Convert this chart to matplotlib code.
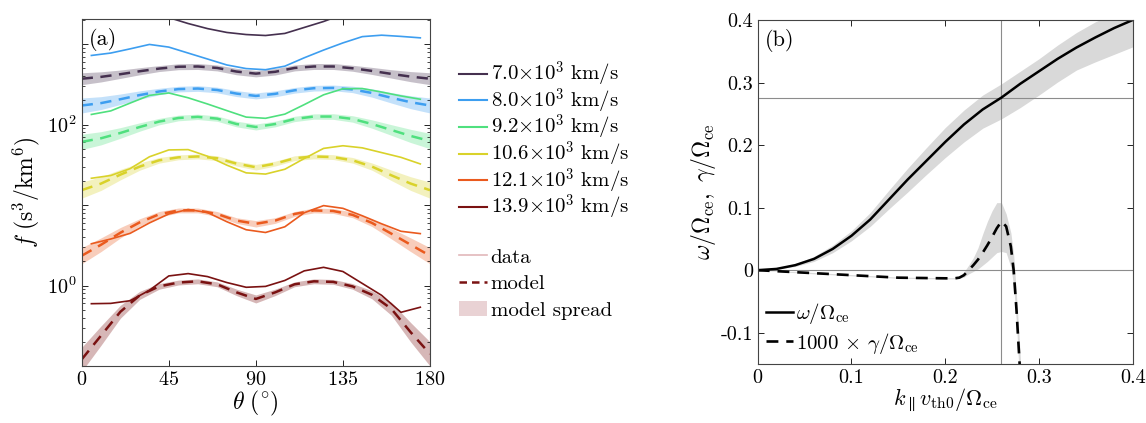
import numpy as np
import matplotlib
matplotlib.use("Agg")
import matplotlib.pyplot as plt
from matplotlib.lines import Line2D
from matplotlib.patches import Patch
from matplotlib.ticker import LogLocator, NullFormatter

# ---- panel (a): phase-space density vs pitch angle (values stored as log10 f) ----
theta_data = [5, 15, 25, 35, 45, 55, 65, 75, 85, 95, 105, 115, 125, 135, 145, 155, 165, 175]
theta_model = [0, 10, 20, 30, 40, 50, 60, 70, 80, 90, 100, 110, 120, 130, 140, 150, 160, 170, 180]

speed_labels = [r"$7.0{\times}10^3\ \mathrm{km/s}$", r"$8.0{\times}10^3\ \mathrm{km/s}$",
                r"$9.2{\times}10^3\ \mathrm{km/s}$", r"$10.6{\times}10^3\ \mathrm{km/s}$",
                r"$12.1{\times}10^3\ \mathrm{km/s}$", r"$13.9{\times}10^3\ \mathrm{km/s}$"]
colors = ["#45304f", "#3d9ef0", "#4fe07e", "#d9d22a", "#ea5a1e", "#7a1212"]

logf_data_70 = [3.55, 3.52, 3.48, 3.42, 3.33, 3.256, 3.193, 3.145, 3.119, 3.107, 3.133, 3.207, 3.281, 3.37, 3.45, 3.50, 3.53, 3.55]
logf_data_80 = [2.859, 2.889, 2.941, 2.996, 2.963, 2.889, 2.815, 2.741, 2.696, 2.682, 2.726, 2.830, 2.926, 3.015, 3.093, 3.111, 3.096, 3.078]
logf_data_92 = [2.126, 2.170, 2.267, 2.363, 2.393, 2.333, 2.256, 2.174, 2.093, 2.078, 2.130, 2.248, 2.370, 2.445, 2.448, 2.404, 2.356, 2.315]
logf_data_106 = [1.333, 1.367, 1.452, 1.600, 1.685, 1.689, 1.607, 1.496, 1.400, 1.385, 1.445, 1.578, 1.704, 1.737, 1.711, 1.652, 1.593, 1.511]
logf_data_121 = [0.519, 0.578, 0.648, 0.778, 0.889, 0.945, 0.907, 0.793, 0.693, 0.659, 0.730, 0.904, 0.993, 0.959, 0.867, 0.767, 0.674, 0.645]
logf_data_139 = [-0.226, -0.222, -0.189, -0.059, 0.119, 0.148, 0.111, 0.037, -0.022, -0.011, 0.063, 0.182, 0.226, 0.174, 0.026, -0.122, -0.333, -0.270]

logf_model_70 = [2.570, 2.593, 2.626, 2.663, 2.696, 2.719, 2.722, 2.704, 2.659, 2.633, 2.656, 2.704, 2.722, 2.722, 2.700, 2.667, 2.630, 2.596, 2.570]
logf_model_80 = [2.237, 2.267, 2.315, 2.367, 2.411, 2.441, 2.448, 2.430, 2.385, 2.356, 2.382, 2.426, 2.452, 2.456, 2.437, 2.393, 2.333, 2.278, 2.237]
logf_model_92 = [1.785, 1.830, 1.896, 1.970, 2.037, 2.082, 2.096, 2.074, 2.007, 1.970, 2.007, 2.070, 2.100, 2.100, 2.070, 2.007, 1.933, 1.859, 1.796]
logf_model_106 = [1.185, 1.267, 1.378, 1.478, 1.556, 1.593, 1.604, 1.582, 1.515, 1.470, 1.515, 1.582, 1.604, 1.596, 1.556, 1.478, 1.370, 1.267, 1.185]
logf_model_121 = [0.370, 0.507, 0.656, 0.785, 0.885, 0.933, 0.933, 0.889, 0.807, 0.767, 0.807, 0.889, 0.933, 0.926, 0.878, 0.778, 0.645, 0.507, 0.370]
logf_model_139 = [-0.918, -0.622, -0.326, -0.122, -0.011, 0.037, 0.052, 0.015, -0.085, -0.167, -0.085, 0.015, 0.052, 0.045, -0.011, -0.115, -0.289, -0.58, -0.85]

# half-width of the model spread, in decades
spread_70 = [0.074, 0.063, 0.052, 0.044, 0.037, 0.037, 0.037, 0.037, 0.040, 0.040, 0.040, 0.037, 0.037, 0.037, 0.037, 0.044, 0.052, 0.063, 0.074]
spread_80 = [0.093, 0.080, 0.065, 0.052, 0.040, 0.035, 0.035, 0.035, 0.037, 0.037, 0.037, 0.035, 0.035, 0.035, 0.040, 0.052, 0.065, 0.080, 0.093]
spread_92 = [0.095, 0.082, 0.066, 0.052, 0.040, 0.035, 0.033, 0.033, 0.035, 0.037, 0.035, 0.033, 0.033, 0.035, 0.040, 0.052, 0.066, 0.082, 0.095]
spread_106 = [0.100, 0.085, 0.065, 0.045, 0.035, 0.030, 0.030, 0.030, 0.030, 0.035, 0.030, 0.030, 0.030, 0.030, 0.035, 0.045, 0.065, 0.085, 0.100]
spread_121 = [0.100, 0.085, 0.065, 0.045, 0.035, 0.030, 0.030, 0.030, 0.035, 0.040, 0.035, 0.030, 0.030, 0.030, 0.035, 0.045, 0.065, 0.085, 0.100]
spread_139 = [0.15, 0.12, 0.08, 0.05, 0.035, 0.03, 0.03, 0.03, 0.04, 0.05, 0.04, 0.03, 0.03, 0.03, 0.035, 0.05, 0.08, 0.12, 0.15]

data_sets = [logf_data_70, logf_data_80, logf_data_92, logf_data_106, logf_data_121, logf_data_139]
model_sets = [logf_model_70, logf_model_80, logf_model_92, logf_model_106, logf_model_121, logf_model_139]
spread_sets = [spread_70, spread_80, spread_92, spread_106, spread_121, spread_139]

# ---- panel (b): dispersion relation ----
k_omega = [0, 0.02, 0.04, 0.06, 0.08, 0.10, 0.12, 0.14, 0.16, 0.18, 0.20, 0.22, 0.24, 0.26, 0.28, 0.30, 0.32, 0.34, 0.36, 0.38, 0.40]
omega = [0, 0.002, 0.008, 0.018, 0.034, 0.055, 0.081, 0.113, 0.145, 0.175, 0.205, 0.233, 0.257, 0.276, 0.298, 0.318, 0.338, 0.356, 0.372, 0.387, 0.400]
omega_lo = [0, 0.0015, 0.006, 0.014, 0.028, 0.047, 0.070, 0.098, 0.125, 0.153, 0.180, 0.205, 0.227, 0.242, 0.260, 0.280, 0.301, 0.320, 0.333, 0.345, 0.357]
omega_hi = [0, 0.0025, 0.010, 0.022, 0.040, 0.063, 0.092, 0.128, 0.163, 0.196, 0.228, 0.256, 0.280, 0.298, 0.318, 0.338, 0.360, 0.380, 0.397, 0.410, 0.420]

k_gamma = [0, 0.05, 0.10, 0.15, 0.20, 0.21, 0.215, 0.22, 0.225, 0.23, 0.235, 0.24, 0.245, 0.25, 0.255, 0.26, 0.265, 0.27, 0.273, 0.276, 0.279, 0.282]
gamma = [0, -0.004, -0.008, -0.012, -0.013, -0.013, -0.012, -0.008, 0.000, 0.008, 0.017, 0.028, 0.040, 0.053, 0.067, 0.078, 0.070, 0.038, 0.0, -0.063, -0.14, -0.22]
gamma_lo = [0, -0.005, -0.009, -0.013, -0.014, -0.014, -0.013, -0.011, -0.006, -0.002, 0.002, 0.008, 0.014, 0.021, 0.028, 0.030, 0.028, 0.005, -0.025, -0.085, -0.17, -0.25]
gamma_hi = [0, -0.003, -0.007, -0.011, -0.012, -0.012, -0.010, -0.003, 0.008, 0.020, 0.036, 0.058, 0.078, 0.095, 0.108, 0.108, 0.090, 0.060, 0.025, -0.040, -0.11, -0.19]

k_mark = 0.26
omega_mark = 0.275

plt.rcParams.update({
    "font.family": "serif",
    "font.serif": ["cmr10", "DejaVu Serif"],
    "mathtext.fontset": "cm",
    "axes.formatter.use_mathtext": True,
    "font.size": 14.5,
    "axes.linewidth": 0.8,
    "axes.edgecolor": "#444444",
})

dash = (0, (4.5, 3))

fig = plt.figure(figsize=(11.46, 4.23), dpi=100)
ax1 = fig.add_axes([0.0713, 0.1348, 0.3039, 0.8202])
ax2 = fig.add_axes([0.6612, 0.1395, 0.3272, 0.8132])

for data, model, spread, c in zip(data_sets, model_sets, spread_sets, colors):
    m = np.array(model)
    w = np.array(spread)
    ax1.fill_between(theta_model, 10 ** (m - w), 10 ** (m + w), color=c, alpha=0.3, lw=0)
    ax1.plot(theta_model, 10 ** m, color=c, lw=1.8, ls=dash)
    ax1.plot(theta_data, 10 ** np.array(data), color=c, lw=1.2)

ax1.set_yscale("log")
ax1.set_xlim(0, 180)
ax1.set_ylim(0.286, 2050)
ax1.set_xticks([0, 45, 90, 135, 180])
ax1.set_yticks([1e-1, 1e0, 1e1, 1e2, 1e3], labels=["", r"$10^0$", "", r"$10^2$", ""])
ax1.yaxis.set_minor_locator(LogLocator(base=10, subs=np.arange(2, 10), numticks=20))
ax1.yaxis.set_minor_formatter(NullFormatter())
ax1.set_xlabel(r"$\theta\ ({}^{\circ})$", fontsize=17, labelpad=0)
ax1.set_ylabel(r"$f\ (\mathrm{s}^3/\mathrm{km}^6)$", fontsize=17, labelpad=4)
ax1.text(0.02, 0.975, "(a)", transform=ax1.transAxes, fontsize=16, va="top")

# legends for panel (a): speeds, then line-style key
speed_handles = [Line2D([], [], color=c, lw=1.5) for c in colors]
leg_speed = fig.legend(speed_handles, speed_labels, loc="upper left", bbox_to_anchor=(0.3935, 0.878),
                       frameon=False, borderaxespad=0, borderpad=0.4, handlelength=1.35,
                       handletextpad=0.15, labelspacing=-0.12, fontsize=15)
key_handles = [Line2D([], [], color="#e2b7ba", lw=1.2),
               Line2D([], [], color="#7a1212", lw=1.8, ls=(0, (3, 2))),
               Patch(color="#e9d2d4", lw=0)]
fig.legend(key_handles, ["data", "model", "model spread"], loc="upper left",
           bbox_to_anchor=(0.3935, 0.433), frameon=False, borderaxespad=0, borderpad=0.4,
           handlelength=1.35, handletextpad=0.15, labelspacing=0.38, fontsize=15)

# panel (b)
ax2.fill_between(k_omega, omega_lo, omega_hi, color="#d9d9d9", lw=0)
ax2.fill_between(k_gamma, gamma_lo, gamma_hi, color="#d9d9d9", lw=0)
ax2.axhline(0, color="#8c8c8c", lw=0.8)
ax2.axhline(omega_mark, color="#8c8c8c", lw=0.8)
ax2.axvline(k_mark, color="#8c8c8c", lw=0.8)
ax2.plot(k_omega, omega, color="black", lw=1.8, label=r"$\omega/\Omega_\mathrm{ce}$")
ax2.plot(k_gamma, gamma, color="black", lw=1.9, ls=dash,
         label=r"$1000\,\times\,\gamma/\Omega_\mathrm{ce}$")
ax2.set_xlim(0, 0.4)
ax2.set_ylim(-0.15, 0.4)
ax2.set_xticks([0, 0.1, 0.2, 0.3, 0.4], labels=["0", "0.1", "0.2", "0.3", "0.4"])
ax2.set_yticks([-0.1, 0, 0.1, 0.2, 0.3, 0.4], labels=["-0.1", "0", "0.1", "0.2", "0.3", "0.4"])
ax2.set_xlabel(r"$k_\parallel v_\mathrm{th0}/\Omega_\mathrm{ce}$", fontsize=16, labelpad=0)
ax2.set_ylabel(r"$\omega/\Omega_\mathrm{ce},\ \gamma/\Omega_\mathrm{ce}$", fontsize=17, labelpad=2)
ax2.text(0.02, 0.975, "(b)", transform=ax2.transAxes, fontsize=16, va="top")
ax2.legend(loc="lower left", bbox_to_anchor=(0.0, 0.0), frameon=False, borderaxespad=0.1,
           borderpad=0.3, handlelength=1.3, handletextpad=0.15, labelspacing=0.2, fontsize=15)

for ax in (ax1, ax2):
    ax.tick_params(which="both", direction="in", top=True, right=True, labelsize=14.5)
    ax.tick_params(which="major", length=4, width=0.6)
    ax.tick_params(which="minor", length=2, width=0.5)

fig.savefig("out.png", dpi=100)
